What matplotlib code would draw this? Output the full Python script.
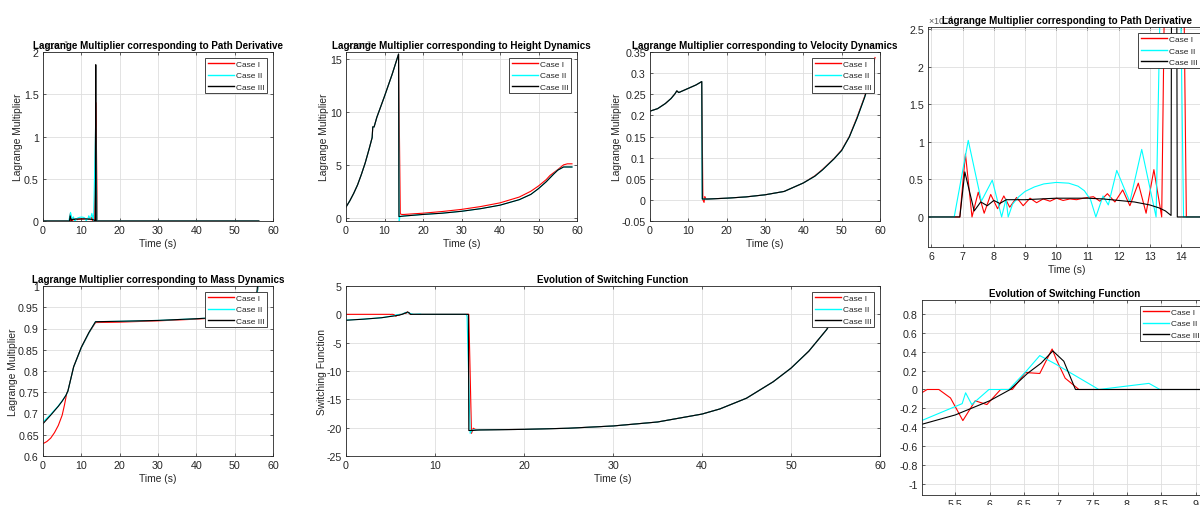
import numpy as np
import matplotlib.pyplot as plt
from matplotlib.ticker import MultipleLocator, FuncFormatter

plt.rcParams['font.family'] = ['Liberation Sans', 'DejaVu Sans']
plt.rcParams['axes.unicode_minus'] = False

# ---- data ----
cases = ['Case I', 'Case II', 'Case III']
colors = ['#ff0000', '#00ffff', '#000000']

# path-derivative multiplier, units of 1e-4
t_path_I = [0, 6.91, 7.09, 7.3, 7.5, 7.69, 7.9, 8.12, 8.32, 8.51, 8.73, 8.94, 9.16, 9.37, 9.58,
            9.8, 10.01, 10.22, 10.44, 10.65, 10.87, 11.19, 11.4, 11.64, 11.88, 12.13, 12.36,
            12.63, 12.88, 13.13, 13.38, 13.8, 14.17, 56.3]
path_I = [0, 0, 0.84, 0.0, 0.33, 0.05, 0.3, 0.11, 0.28, 0.13, 0.26, 0.15, 0.25, 0.19, 0.24,
          0.21, 0.25, 0.22, 0.24, 0.23, 0.25, 0.27, 0.21, 0.31, 0.2, 0.36, 0.15,
          0.45, 0.05, 0.63, 0.0, 14.0, 0, 0]
t_path_II = [0, 6.73, 7.18, 7.6, 7.95, 8.25, 8.39, 8.46, 8.6, 8.8, 9.0, 9.3, 9.6, 10.0, 10.4,
             10.7, 10.9, 11.1, 11.27, 11.5, 11.67, 11.94, 12.36, 12.74, 13.2, 13.72, 14.08, 56.3]
path_II = [0, 0, 1.02, 0.21, 0.49, 0, 0.24, 0, 0.17, 0.27, 0.34, 0.4, 0.44, 0.46, 0.45,
           0.41, 0.35, 0.23, 0, 0.28, 0.16, 0.62, 0.2, 0.9, 0, 11.3, 0, 0]
t_path_III = [0, 6.91, 7.07, 7.37, 7.58, 7.79, 8.0, 8.19, 8.4, 9.0, 10.0, 11.0, 11.5, 12.0,
              12.5, 13.0, 13.3, 13.5, 13.68, 13.77, 13.88, 56.3]
path_III = [0, 0, 0.6, 0.08, 0.2, 0.15, 0.22, 0.18, 0.23, 0.23, 0.25, 0.25, 0.24, 0.22,
            0.2, 0.16, 0.12, 0.08, 0.02, 18.5, 0, 0]

# height multiplier, units of 1e-3
t_h_pre = [0, 1, 2, 3, 4, 5, 6, 6.8, 6.95, 7.3, 8, 10, 12, 13.65]
h_pre = [1.0, 1.6, 2.3, 3.1, 4.1, 5.2, 6.5, 7.6, 8.6, 8.6, 9.5, 11.5, 13.6, 15.5]
t_h_I = [14.1, 14.5, 15, 20, 25, 30, 35, 40, 45, 48, 50, 52, 53, 55, 56.5, 57.5, 58.7]
h_I = [0.35, 0.3, 0.3, 0.42, 0.58, 0.78, 1.05, 1.4, 1.95, 2.5, 3.0, 3.6, 4.0, 4.55, 5.0, 5.1, 5.1]
t_h_II = [13.8, 14.0, 15, 20, 25, 30, 35, 40, 45, 48, 50, 52, 54, 55, 56.5, 58.7]
h_II = [-0.5, 0.1, 0.15, 0.3, 0.42, 0.6, 0.85, 1.18, 1.7, 2.2, 2.75, 3.4, 4.15, 4.5, 4.8, 4.8]
t_h_III = [13.75, 15, 20, 25, 30, 35, 40, 45, 48, 50, 52, 54, 55, 56.5, 58.7]
h_III = [0.1, 0.15, 0.3, 0.42, 0.6, 0.85, 1.18, 1.7, 2.2, 2.75, 3.4, 4.15, 4.5, 4.8, 4.8]

# velocity multiplier
t_v_pre = [0, 2, 4, 5.5, 6.5, 7.0, 7.5, 8, 10, 12, 13.5]
v_pre = [0.21, 0.216, 0.228, 0.24, 0.251, 0.258, 0.254, 0.256, 0.264, 0.272, 0.28]
t_v_I = [13.8, 14.1, 14.3, 14.6, 15, 20, 25, 30, 35, 40, 43, 45, 48, 50, 52, 54, 56, 57.5, 58.7]
v_I = [0.0, -0.006, 0.008, 0.002, 0.002, 0.004, 0.007, 0.012, 0.02, 0.04, 0.057, 0.072,
       0.098, 0.118, 0.15, 0.195, 0.245, 0.29, 0.337]
t_v_II = [13.6, 15, 20, 25, 30, 35, 40, 43, 45, 48, 50, 52, 54, 56, 57.5, 58.5]
v_II = [0.002, 0.002, 0.004, 0.007, 0.012, 0.02, 0.04, 0.056, 0.071, 0.097, 0.117, 0.149,
        0.193, 0.243, 0.288, 0.33]
t_v_III = [13.65, 15, 20, 25, 30, 35, 40, 43, 45, 48, 50, 52, 54, 56, 57.5, 58.5]
v_III = [0.002, 0.002, 0.004, 0.007, 0.012, 0.02, 0.04, 0.056, 0.071, 0.097, 0.117, 0.149,
         0.193, 0.243, 0.288, 0.33]

# mass multiplier
t_m_I = [0, 1, 2, 3, 4, 5, 5.6, 6.2, 6.5, 8, 10, 12, 13.7, 20, 30, 40, 50, 54, 55.5, 56.3]
m_I = [0.629, 0.634, 0.642, 0.655, 0.672, 0.696, 0.72, 0.748, 0.753, 0.81, 0.855, 0.89,
       0.914, 0.915, 0.918, 0.922, 0.928, 0.935, 0.96, 1.01]
t_m_II = [0, 2, 4, 5, 6, 6.5, 8, 10, 12, 13.7, 20, 30, 40, 50, 54, 55.5, 56.3]
m_II = [0.68, 0.698, 0.718, 0.73, 0.743, 0.753, 0.81, 0.855, 0.89, 0.916, 0.917, 0.919,
        0.923, 0.928, 0.935, 0.96, 1.01]
t_m_III = [0, 2, 4, 5, 6, 6.5, 8, 10, 12, 13.7, 20, 30, 40, 50, 54, 55.5, 56.3]
m_III = [0.676, 0.696, 0.717, 0.729, 0.743, 0.753, 0.81, 0.856, 0.891, 0.916, 0.917, 0.919,
         0.923, 0.928, 0.935, 0.96, 1.03]

# switching function
t_sw_post = [15, 20, 25, 30, 35, 40, 42, 45, 48, 50, 52, 54, 56.3]
sw_post = [-20.4, -20.3, -20.1, -19.7, -19.0, -17.6, -16.7, -14.8, -11.9, -9.5, -6.5, -2.7, 3.0]
t_sw_I = [0, 4.95, 5.01, 5.09, 5.26, 5.43, 5.61, 5.79, 5.96, 6.16, 6.33, 6.52, 6.73, 6.91,
          6.97, 7.1, 7.3, 13.8, 14.1, 14.3, 14.5]
sw_I = [0, 0, -0.035, 0, 0, -0.09, -0.33, -0.12, -0.16, 0, 0, 0.18, 0.17, 0.43,
        0.32, 0.12, 0, 0, -21.0, -20.1, -20.3]
t_sw_II = [0, 2, 4, 5.01, 5.6, 5.65, 5.74, 5.99, 6.28, 6.54, 6.73, 6.96, 7.59, 8.32, 8.48,
           13.5, 13.6, 13.95, 14.2]
sw_II = [-1.0, -0.85, -0.6, -0.33, -0.15, -0.035, -0.16, 0, 0, 0.2, 0.36, 0.27, 0, 0.065, 0,
         0, -0.4, -21.0, -20.4]
t_sw_III = [0, 2, 4, 5.01, 5.5, 6.0, 6.3, 6.55, 6.75, 6.92, 7.08, 7.25, 13.75, 13.8, 14.2]
sw_III = [-1.05, -0.85, -0.6, -0.37, -0.27, -0.12, 0.0, 0.17, 0.28, 0.41, 0.3, 0, 0, -20.5, -20.5]

# ---- figure ----
W, H = 1200, 506
fig = plt.figure(figsize=(W / 100, H / 100), dpi=100)
fig.patch.set_facecolor('white')
ink = '#262626'


def make_ax(l, r, t, b):
    return fig.add_axes([l / W, 1 - b / H, (r - l) / W, (b - t) / H])


def fmt(v, p):
    v = round(v, 6)
    if abs(v) < 1e-9:
        return '0'
    return '{:g}'.format(v)


def style(ax, xlim, ylim, xstep, ystep, title, ylabel=None, xlabel='Time (s)', expo=None,
          ypad=1):
    ax.set_xlim(xlim)
    ax.set_ylim(ylim)
    ax.xaxis.set_major_locator(MultipleLocator(xstep))
    ax.yaxis.set_major_locator(MultipleLocator(ystep))
    ax.xaxis.set_major_formatter(FuncFormatter(fmt))
    ax.yaxis.set_major_formatter(FuncFormatter(fmt))
    ax.grid(True, color='#dedede', lw=0.6)
    ax.set_axisbelow(True)
    ax.tick_params(direction='in', length=2.5, width=0.5, colors=ink, labelsize=7.7,
                   top=True, right=True, pad=3)
    for s in ax.spines.values():
        s.set_linewidth(0.6)
        s.set_color(ink)
    if expo:
        ax.text(0.0, 1.005, expo, transform=ax.transAxes, fontsize=6.5, color='#555555',
                ha='left', va='bottom')
    ax.set_title(title, fontsize=7.1, fontweight='bold', pad=3)
    if xlabel:
        ax.set_xlabel(xlabel, fontsize=7.4, color=ink, labelpad=2)
    if ylabel:
        ax.set_ylabel(ylabel, fontsize=7.4, color=ink, labelpad=ypad)
    leg = ax.legend(loc='upper right', fontsize=6.0, handlelength=3.1, handletextpad=0.3,
                    borderpad=0.3, labelspacing=0.42, borderaxespad=0.7,
                    fancybox=False, framealpha=1, edgecolor=ink)
    leg.get_frame().set_linewidth(0.6)
    for line in leg.get_lines():
        line.set_linewidth(1.0)
    for txt in leg.get_texts():
        txt.set_color(ink)


def draw(ax, series, scale=1.0):
    for (t, y), lab, c in zip(series, cases, colors):
        ax.plot(t, np.array(y) * scale, color=c, lw=0.8, label=lab)


path_series = [(t_path_I, path_I), (t_path_II, path_II), (t_path_III, path_III)]

# top-left: path derivative (x1e-3)
ax1 = make_ax(43, 273, 53, 222)
draw(ax1, path_series, 0.1)
style(ax1, (0, 60), (0, 2), 10, 0.5, 'Lagrange Multiplier corresponding to Path Derivative',
      'Lagrange Multiplier', expo='×10$^{-3}$', ypad=0.5)

# height
ax2 = make_ax(346, 577, 53, 222)
draw(ax2, [(t_h_pre + t_h_I, h_pre + h_I), (t_h_pre + t_h_II, h_pre + h_II),
           (t_h_pre + t_h_III, h_pre + h_III)])
style(ax2, (0, 60), (-0.32, 15.7), 10, 5, 'Lagrange Multiplier corresponding to Height Dynamics',
      'Lagrange Multiplier', expo='×10$^{-3}$', ypad=1)

# velocity
ax3 = make_ax(650, 880, 53, 222)
draw(ax3, [(t_v_pre + t_v_I, v_pre + v_I), (t_v_pre + t_v_II, v_pre + v_II),
           (t_v_pre + t_v_III, v_pre + v_III)])
style(ax3, (0, 60), (-0.05, 0.35), 10, 0.05, 'Lagrange Multiplier corresponding to Velocity Dynamics',
      'Lagrange Multiplier', ypad=0)

# zoomed path derivative (x1e-4)
ax4 = make_ax(928, 1206, 28, 248)
draw(ax4, path_series)
style(ax4, (5.89, 14.8), (-0.4, 2.53), 1, 0.5, 'Lagrange Multiplier corresponding to Path Derivative',
      None, expo='×10$^{-4}$')

# mass
ax5 = make_ax(43, 273, 287, 457)
draw(ax5, [(t_m_I, m_I), (t_m_II, m_II), (t_m_III, m_III)])
style(ax5, (0, 60), (0.6, 1.0), 10, 0.05, 'Lagrange Multiplier corresponding to Mass Dynamics',
      'Lagrange Multiplier', ypad=0)

# switching function
sw_series = [(t_sw_I + t_sw_post, sw_I + sw_post), (t_sw_II + t_sw_post, sw_II + sw_post),
             (t_sw_III + t_sw_post, sw_III + sw_post)]
ax6 = make_ax(346, 880, 287, 457)
draw(ax6, sw_series)
style(ax6, (0, 60), (-25, 5), 10, 5, 'Evolution of Switching Function', 'Switching Function',
      ypad=0)

# zoomed switching function
ax7 = make_ax(922, 1208, 301, 496)
draw(ax7, sw_series)
style(ax7, (5.015, 9.18), (-1.12, 0.95), 0.5, 0.2, 'Evolution of Switching Function', None,
      xlabel=None)

fig.savefig('out.png', dpi=100)
